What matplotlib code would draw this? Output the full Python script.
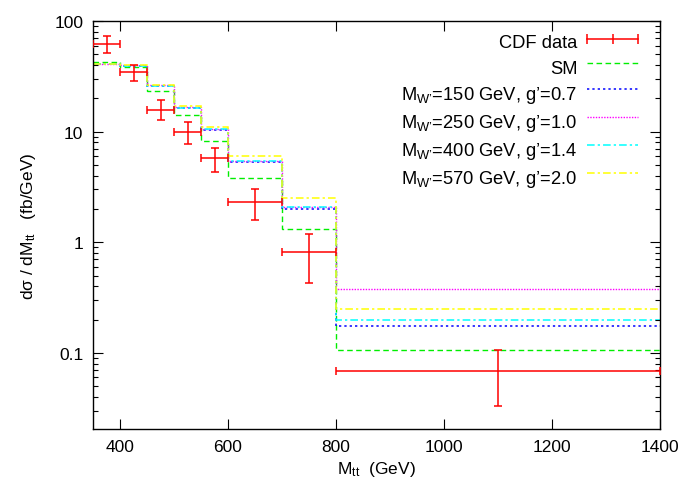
import matplotlib
matplotlib.use("Agg")
import matplotlib.pyplot as plt
import numpy as np
from matplotlib.ticker import NullFormatter, LogLocator
from matplotlib.legend_handler import HandlerLine2D
from matplotlib.lines import Line2D

plt.rcParams['font.family'] = ['Liberation Sans', 'DejaVu Sans']
plt.rcParams['mathtext.fontset'] = 'custom'
plt.rcParams['mathtext.rm'] = 'Liberation Sans'
plt.rcParams['mathtext.it'] = 'Liberation Sans'
plt.rcParams['mathtext.default'] = 'regular'

# bin edges (GeV)
edges = [350, 400, 450, 500, 550, 600, 700, 800, 1400]

# CDF data
cdf_x = [375, 425, 475, 525, 575, 650, 750, 1100]
cdf_xerr = [25, 25, 25, 25, 25, 50, 50, 300]
cdf_y = [62, 34.8, 15.7, 9.96, 5.72, 2.29, 0.81, 0.068]
cdf_lo = [51, 28.6, 12.8, 7.66, 4.33, 1.59, 0.43, 0.033]
cdf_hi = [73.6, 40, 19.3, 12.1, 7.13, 3.06, 1.18, 0.106]

# predictions per bin
sm = [42.3, 38.3, 23.4, 14.1, 8.26, 3.82, 1.33, 0.107]
w150 = [40.8, 39.5, 25.8, 16.4, 10.4, 5.26, 1.99, 0.175]
w250 = [40.8, 40.0, 26.2, 16.8, 10.6, 5.40, 2.10, 0.381]
w400 = [40.8, 39.5, 25.8, 16.5, 10.5, 5.41, 2.10, 0.198]
w570 = [41.2, 40.3, 26.4, 17.1, 11.1, 6.04, 2.50, 0.251]

labels = ["CDF data", "SM",
          "M$_{W’}$=150 GeV, g’=0.7",
          "M$_{W’}$=250 GeV, g’=1.0",
          "M$_{W’}$=400 GeV, g’=1.4",
          "M$_{W’}$=570 GeV, g’=2.0"]

fig = plt.figure(figsize=(6.92, 4.85), dpi=100)
ax = fig.add_axes([0.1344, 0.1134, 0.8194, 0.8412])

yerr = [np.array(cdf_y) - np.array(cdf_lo), np.array(cdf_hi) - np.array(cdf_y)]
ax.errorbar(cdf_x, cdf_y, xerr=cdf_xerr, yerr=yerr, fmt='none', ecolor='#ff0000',
            elinewidth=1.1, capsize=3, capthick=1.1, zorder=5)

h1 = ax.stairs(sm, edges, baseline=None, color='#00ee00', ls=(0, (4, 2.5)), lw=1, label=labels[1])
h2 = ax.stairs(w150, edges, baseline=None, color='#0000ff', ls=(0, (1.5, 2)), lw=1.1, label=labels[2])
h3 = ax.stairs(w250, edges, baseline=None, color='#ff00ff', ls=(0, (1, 1)), lw=1, label=labels[3])
h4 = ax.stairs(w400, edges, baseline=None, color='#00ffff', ls=(0, (5, 2, 1.5, 2)), lw=1.1, label=labels[4])
h5 = ax.stairs(w570, edges, baseline=None, color='#ffff00', ls=(0, (5, 2, 1.5, 2)), lw=1.1, label=labels[5])

# legend proxy for the data: horizontal bar with end caps and a centre tick
eb = Line2D([], [], color='#ff0000', lw=1.1, marker='|', markersize=7, markeredgewidth=1.1)

ax.set_yscale('log')
ax.set_xlim(350, 1400)
ax.set_ylim(0.0205, 100)

ax.set_xticks([400, 600, 800, 1000, 1200, 1400])
ax.set_xticklabels(['400', '600', '800', '1000', '1200', '1400'])
ax.set_yticks([0.1, 1, 10, 100])
ax.set_yticklabels(['0.1', '1', '10', '100'])
ax.yaxis.set_minor_locator(LogLocator(base=10, subs=np.arange(2, 10)))
ax.yaxis.set_minor_formatter(NullFormatter())
ax.tick_params(which='both', direction='in', top=True, right=True, labelsize=12.5, pad=7)
ax.tick_params(which='major', length=7, width=0.8)
ax.tick_params(which='minor', length=3.5, width=0.8)
for s in ax.spines.values():
    s.set_linewidth(1.0)

ax.set_xlabel("M$_{tt}$  (GeV)", fontsize=12.5, labelpad=4)
ax.set_ylabel("dσ / dM$_{tt}$   (fb/GeV)", fontsize=12.5, labelpad=12)

ax.legend([eb, h1, h2, h3, h4, h5], labels,
          handler_map={eb: HandlerLine2D(numpoints=3, marker_pad=0)},
          loc='upper right', bbox_to_anchor=(0.961, 0.977), frameon=False,
          markerfirst=False, fontsize=13.2, handlelength=2.75, handletextpad=0.55,
          handleheight=1.33, labelspacing=0.31, borderpad=0, borderaxespad=0)

fig.savefig("out.png", dpi=100)
